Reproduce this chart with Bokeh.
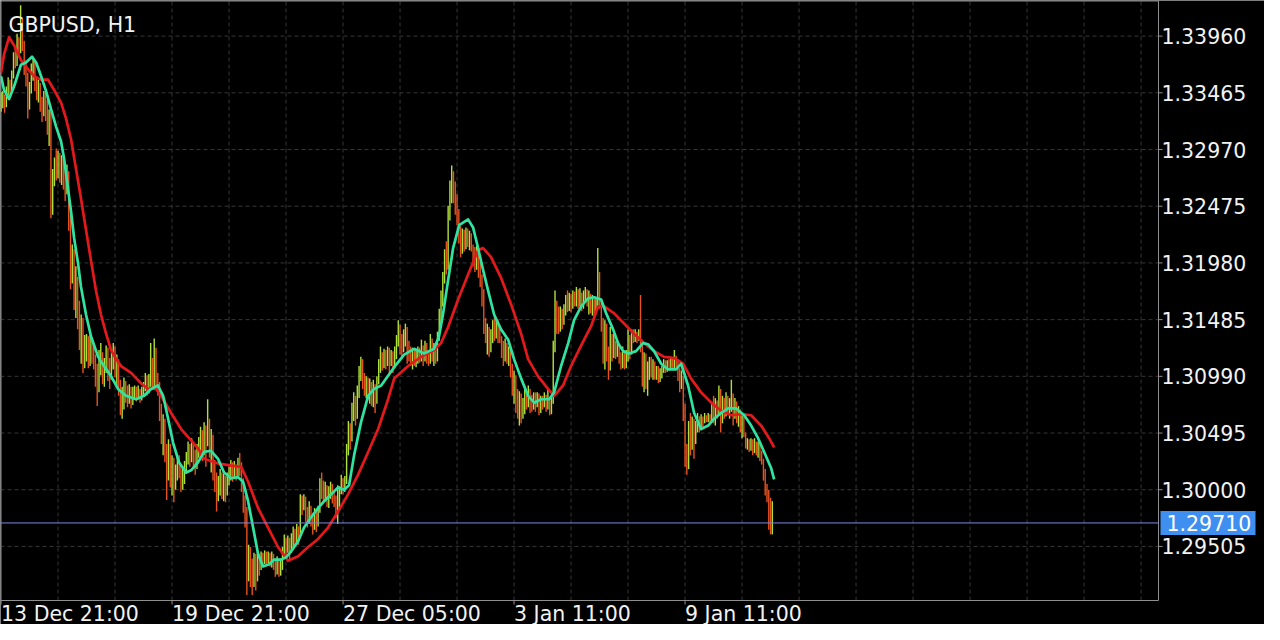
import numpy as np
from bokeh.plotting import figure
from bokeh.models import Range1d, ColumnDataSource
from bokeh.core.properties import value
from bokeh.embed import file_html
from bokeh.resources import INLINE

symbol_title = "GBPUSD, H1"
first_open = 1.3335

close = [
    1.3338,1.3342,1.3336,1.3348,1.3355,1.3351,1.3362,1.3378,1.3372,1.3390,
    1.3384,1.3395,1.3388,1.3370,1.3360,1.3335,1.3350,1.3362,1.3371,1.3356,
    1.3345,1.3352,1.3338,1.3330,1.3342,1.3335,1.3318,1.3326,1.3245,1.3270,
    1.3283,1.3278,1.3290,1.3275,1.3285,1.3270,1.3262,1.3275,1.3235,1.3190,
    1.3205,1.3168,1.3180,1.3160,1.3130,1.3142,1.3118,1.3125,1.3132,1.3115,
    1.3128,1.3120,1.3112,1.3100,1.3088,1.3105,1.3115,1.3098,1.3108,1.3120,
    1.3110,1.3100,1.3112,1.3118,1.3105,1.3110,1.3090,1.3075,1.3082,1.3095,
    1.3085,1.3080,1.3088,1.3078,1.3084,1.3087,1.3082,1.3086,1.3080,1.3085,
    1.3090,1.3095,1.3088,1.3094,1.3110,1.3092,1.3120,1.3096,1.3090,1.3070,
    1.3050,1.3060,1.3032,1.3015,1.3035,1.3010,1.3022,1.3008,1.3015,1.3025,
    1.3018,1.3005,1.3012,1.3020,1.3028,1.3035,1.3028,1.3038,1.3030,1.3022,
    1.3034,1.3040,1.3048,1.3035,1.3050,1.3042,1.3058,1.3035,1.3045,1.3022,
    1.3010,1.2995,1.3005,1.3012,1.3000,1.3008,1.2998,1.3010,1.3016,1.3020,
    1.3012,1.3018,1.3015,1.3022,1.3020,1.3005,1.2990,1.2975,1.2925,1.2945,
    1.2930,1.2920,1.2938,1.2925,1.2940,1.2935,1.2942,1.2938,1.2944,1.2940,
    1.2943,1.2936,1.2940,1.2935,1.2930,1.2938,1.2928,1.2935,1.2945,1.2955,
    1.2948,1.2955,1.2950,1.2958,1.2962,1.2955,1.2965,1.2960,1.2988,1.2985,
    1.2990,1.2980,1.2972,1.2985,1.2975,1.2968,1.2978,1.2972,1.2982,1.3005,
    1.3000,1.2995,1.3000,1.2992,1.2998,1.3002,1.2994,1.2990,1.2980,1.2992,
    1.2998,1.3005,1.3000,1.3008,1.3035,1.3050,1.3045,1.3068,1.3075,1.3068,
    1.3085,1.3100,1.3110,1.3098,1.3090,1.3095,1.3085,1.3092,1.3080,1.3088,
    1.3078,1.3095,1.3108,1.3115,1.3110,1.3118,1.3112,1.3120,1.3114,1.3118,
    1.3110,1.3120,1.3130,1.3140,1.3128,1.3122,1.3135,1.3140,1.3125,1.3120,
    1.3115,1.3120,1.3112,1.3118,1.3122,1.3116,1.3120,1.3115,1.3125,1.3118,
    1.3113,1.3128,1.3118,1.3122,1.3115,1.3132,1.3150,1.3165,1.3185,1.3200,
    1.3195,1.3240,1.3262,1.3272,1.3258,1.3248,1.3240,1.3225,1.3210,1.3222,
    1.3215,1.3225,1.3218,1.3222,1.3212,1.3205,1.3198,1.3208,1.3195,1.3185,
    1.3170,1.3145,1.3135,1.3140,1.3128,1.3135,1.3142,1.3136,1.3145,1.3138,
    1.3132,1.3125,1.3118,1.3126,1.3115,1.3120,1.3105,1.3090,1.3098,1.3078,
    1.3070,1.3080,1.3068,1.3075,1.3082,1.3076,1.3084,1.3078,1.3072,1.3080,
    1.3076,1.3082,1.3070,1.3078,1.3075,1.3080,1.3072,1.3078,1.3070,1.3076,
    1.3125,1.3160,1.3150,1.3142,1.3155,1.3148,1.3158,1.3165,1.3160,1.3168,
    1.3162,1.3170,1.3166,1.3172,1.3165,1.3170,1.3162,1.3168,1.3172,1.3165,
    1.3170,1.3160,1.3166,1.3158,1.3164,1.3175,1.3162,1.3145,1.3125,1.3140,
    1.3120,1.3110,1.3132,1.3120,1.3128,1.3118,1.3125,1.3115,1.3110,1.3118,
    1.3108,1.3115,1.3130,1.3122,1.3135,1.3130,1.3136,1.3132,1.3138,1.3125,
    1.3100,1.3110,1.3095,1.3105,1.3112,1.3105,1.3110,1.3100,1.3104,1.3098,
    1.3102,1.3106,1.3110,1.3105,1.3110,1.3108,1.3112,1.3108,1.3114,1.3110,
    1.3100,1.3092,1.3098,1.3070,1.3030,1.3025,1.3050,1.3040,1.3058,1.3045,
    1.3055,1.3060,1.3056,1.3062,1.3058,1.3062,1.3060,1.3064,1.3061,1.3070,
    1.3065,1.3075,1.3068,1.3085,1.3060,1.3075,1.3068,1.3078,1.3070,1.3076,
    1.3080,1.3070,1.3075,1.3062,1.3068,1.3058,1.3062,1.3050,1.3040,1.3043,
    1.3038,1.3042,1.3036,1.3040,1.3034,1.3038,1.3030,1.3025,1.3015,1.3000,
    1.2992,1.2975,1.2965,1.2971,
]

high = [
    1.3347,1.3348,1.3345,1.3352,1.3360,1.3358,1.3366,1.3382,1.3386,1.3398,
    1.3395,1.3423,1.3412,1.3392,1.3375,1.3364,1.3356,1.3372,1.3378,1.3374,
    1.3360,1.3358,1.3355,1.3343,1.3348,1.3347,1.3340,1.3332,1.3330,1.3280,
    1.3290,1.3298,1.3296,1.3294,1.3292,1.3289,1.3280,1.3284,1.3278,1.3240,
    1.3214,1.3210,1.3195,1.3186,1.3165,1.3153,1.3150,1.3135,1.3136,1.3134,
    1.3135,1.3130,1.3125,1.3118,1.3110,1.3122,1.3128,1.3120,1.3115,1.3126,
    1.3124,1.3115,1.3120,1.3128,1.3125,1.3118,1.3114,1.3096,1.3090,1.3098,
    1.3094,1.3091,1.3092,1.3090,1.3090,1.3091,1.3090,1.3091,1.3088,1.3090,
    1.3094,1.3102,1.3100,1.3101,1.3128,1.3115,1.3132,1.3124,1.3102,1.3094,
    1.3075,1.3066,1.3062,1.3040,1.3044,1.3040,1.3030,1.3028,1.3022,1.3030,
    1.3030,1.3022,1.3018,1.3025,1.3033,1.3042,1.3040,1.3045,1.3041,1.3035,
    1.3040,1.3046,1.3055,1.3052,1.3059,1.3056,1.3079,1.3062,1.3053,1.3048,
    1.3026,1.3015,1.3012,1.3018,1.3015,1.3014,1.3012,1.3015,1.3020,1.3026,
    1.3024,1.3025,1.3022,1.3028,1.3032,1.3024,1.3010,1.2995,1.2985,1.2952,
    1.2950,1.2940,1.2945,1.2944,1.2946,1.2944,1.2946,1.2945,1.2947,1.2946,
    1.2946,1.2945,1.2946,1.2944,1.2940,1.2942,1.2940,1.2940,1.2950,1.2961,
    1.2958,1.2960,1.2958,1.2962,1.2968,1.2966,1.2970,1.2968,1.2996,1.2995,
    1.2996,1.2994,1.2985,1.2990,1.2986,1.2980,1.2984,1.2982,1.2986,1.3010,
    1.3015,1.3008,1.3007,1.3004,1.3003,1.3007,1.3005,1.2998,1.2995,1.3004,
    1.3003,1.3013,1.3010,1.3012,1.3040,1.3060,1.3058,1.3076,1.3085,1.3082,
    1.3091,1.3108,1.3116,1.3114,1.3102,1.3099,1.3098,1.3097,1.3094,1.3096,
    1.3092,1.3099,1.3114,1.3125,1.3120,1.3123,1.3122,1.3125,1.3124,1.3122,
    1.3121,1.3125,1.3135,1.3148,1.3144,1.3136,1.3140,1.3145,1.3142,1.3130,
    1.3125,1.3124,1.3122,1.3122,1.3125,1.3124,1.3131,1.3126,1.3130,1.3128,
    1.3122,1.3136,1.3132,1.3128,1.3126,1.3138,1.3158,1.3174,1.3190,1.3210,
    1.3217,1.3248,1.3270,1.3283,1.3278,1.3269,1.3258,1.3245,1.3230,1.3228,
    1.3227,1.3229,1.3228,1.3226,1.3224,1.3214,1.3212,1.3213,1.3210,1.3200,
    1.3188,1.3175,1.3150,1.3145,1.3142,1.3140,1.3148,1.3151,1.3150,1.3148,
    1.3142,1.3134,1.3130,1.3132,1.3128,1.3125,1.3122,1.3110,1.3104,1.3100,
    1.3088,1.3086,1.3084,1.3080,1.3088,1.3086,1.3091,1.3088,1.3083,1.3085,
    1.3085,1.3085,1.3084,1.3082,1.3082,1.3085,1.3083,1.3088,1.3080,1.3082,
    1.3130,1.3174,1.3165,1.3160,1.3160,1.3158,1.3162,1.3170,1.3174,1.3172,
    1.3171,1.3174,1.3173,1.3177,1.3175,1.3176,1.3172,1.3174,1.3177,1.3175,
    1.3174,1.3171,1.3170,1.3168,1.3168,1.3211,1.3190,1.3165,1.3150,1.3148,
    1.3145,1.3125,1.3142,1.3136,1.3136,1.3130,1.3130,1.3127,1.3120,1.3125,
    1.3120,1.3122,1.3140,1.3135,1.3140,1.3140,1.3140,1.3138,1.3140,1.3170,
    1.3131,1.3120,1.3119,1.3112,1.3116,1.3116,1.3114,1.3112,1.3108,1.3108,
    1.3106,1.3108,1.3114,1.3113,1.3113,1.3114,1.3116,1.3115,1.3122,1.3117,
    1.3114,1.3106,1.3104,1.3099,1.3075,1.3040,1.3060,1.3067,1.3064,1.3062,
    1.3060,1.3067,1.3064,1.3066,1.3064,1.3067,1.3065,1.3067,1.3066,1.3075,
    1.3082,1.3080,1.3078,1.3091,1.3088,1.3082,1.3080,1.3085,1.3082,1.3080,
    1.3096,1.3084,1.3080,1.3077,1.3073,1.3070,1.3066,1.3064,1.3045,1.3045,
    1.3044,1.3045,1.3044,1.3045,1.3042,1.3042,1.3040,1.3034,1.3027,1.3018,
    1.3005,1.3000,1.2993,1.2990,
]

low = [
    1.3330,1.3333,1.3329,1.3334,1.3344,1.3342,1.3348,1.3359,1.3368,1.3370,
    1.3378,1.3381,1.3383,1.3362,1.3352,1.3324,1.3332,1.3346,1.3357,1.3348,
    1.3340,1.3338,1.3330,1.3321,1.3326,1.3322,1.3310,1.3300,1.3237,1.3240,
    1.3265,1.3270,1.3272,1.3268,1.3266,1.3262,1.3252,1.3258,1.3226,1.3175,
    1.3180,1.3157,1.3150,1.3140,1.3122,1.3110,1.3102,1.3106,1.3112,1.3106,
    1.3108,1.3110,1.3105,1.3090,1.3073,1.3085,1.3100,1.3092,1.3090,1.3102,
    1.3095,1.3088,1.3096,1.3105,1.3098,1.3091,1.3082,1.3065,1.3062,1.3070,
    1.3076,1.3072,1.3075,1.3071,1.3074,1.3079,1.3077,1.3079,1.3076,1.3078,
    1.3081,1.3086,1.3082,1.3084,1.3090,1.3088,1.3088,1.3090,1.3082,1.3060,
    1.3040,1.3030,1.3024,1.2991,1.3008,1.3002,1.2995,1.2989,1.3000,1.3008,
    1.3010,1.2998,1.3000,1.3005,1.3014,1.3022,1.3020,1.3024,1.3018,1.3013,
    1.3018,1.3028,1.3032,1.3025,1.3030,1.3020,1.3038,1.3028,1.3015,1.3008,
    1.2998,1.2981,1.2990,1.2995,1.2992,1.2990,1.2989,1.2995,1.3004,1.3008,
    1.3007,1.3010,1.3008,1.3010,1.3012,1.2998,1.2980,1.2967,1.2908,1.2920,
    1.2915,1.2908,1.2915,1.2912,1.2920,1.2925,1.2930,1.2933,1.2935,1.2934,
    1.2936,1.2933,1.2932,1.2930,1.2924,1.2926,1.2924,1.2925,1.2930,1.2940,
    1.2940,1.2945,1.2938,1.2945,1.2950,1.2950,1.2952,1.2952,1.2958,1.2978,
    1.2982,1.2972,1.2967,1.2970,1.2968,1.2961,1.2965,1.2963,1.2968,1.2980,
    1.2992,1.2989,1.2990,1.2985,1.2984,1.2992,1.2988,1.2985,1.2975,1.2970,
    1.2985,1.2996,1.2996,1.2998,1.3005,1.3030,1.3035,1.3042,1.3060,1.3056,
    1.3062,1.3080,1.3095,1.3088,1.3082,1.3080,1.3078,1.3075,1.3073,1.3072,
    1.3067,1.3075,1.3092,1.3102,1.3104,1.3106,1.3105,1.3108,1.3102,1.3108,
    1.3102,1.3106,1.3114,1.3125,1.3118,1.3115,1.3120,1.3125,1.3110,1.3112,
    1.3108,1.3105,1.3108,1.3107,1.3110,1.3111,1.3112,1.3108,1.3112,1.3110,
    1.3108,1.3110,1.3112,1.3108,1.3110,1.3112,1.3130,1.3145,1.3160,1.3180,
    1.3188,1.3192,1.3235,1.3250,1.3250,1.3240,1.3231,1.3215,1.3203,1.3206,
    1.3208,1.3210,1.3212,1.3209,1.3208,1.3195,1.3190,1.3192,1.3185,1.3177,
    1.3160,1.3136,1.3128,1.3118,1.3116,1.3120,1.3128,1.3130,1.3132,1.3128,
    1.3128,1.3115,1.3108,1.3112,1.3110,1.3108,1.3098,1.3082,1.3075,1.3067,
    1.3062,1.3056,1.3058,1.3062,1.3066,1.3070,1.3072,1.3067,1.3068,1.3070,
    1.3068,1.3072,1.3065,1.3067,1.3070,1.3072,1.3068,1.3070,1.3065,1.3066,
    1.3075,1.3120,1.3136,1.3136,1.3138,1.3140,1.3144,1.3152,1.3155,1.3156,
    1.3155,1.3158,1.3160,1.3160,1.3158,1.3160,1.3156,1.3158,1.3163,1.3160,
    1.3153,1.3154,1.3152,1.3151,1.3155,1.3160,1.3158,1.3138,1.3110,1.3105,
    1.3112,1.3096,1.3104,1.3112,1.3115,1.3114,1.3116,1.3110,1.3105,1.3106,
    1.3105,1.3106,1.3112,1.3114,1.3118,1.3128,1.3129,1.3128,1.3130,1.3120,
    1.3090,1.3085,1.3088,1.3082,1.3096,1.3098,1.3096,1.3096,1.3096,1.3093,
    1.3094,1.3097,1.3102,1.3102,1.3103,1.3104,1.3105,1.3105,1.3106,1.3105,
    1.3095,1.3085,1.3088,1.3060,1.3020,1.3013,1.3018,1.3030,1.3035,1.3027,
    1.3040,1.3050,1.3050,1.3052,1.3053,1.3059,1.3059,1.3059,1.3059,1.3060,
    1.3058,1.3056,1.3062,1.3065,1.3050,1.3058,1.3062,1.3064,1.3065,1.3062,
    1.3068,1.3056,1.3062,1.3058,1.3055,1.3050,1.3045,1.3046,1.3036,1.3035,
    1.3033,1.3034,1.3030,1.3032,1.3030,1.3028,1.3025,1.3022,1.3008,1.2995,
    1.2989,1.2965,1.2961,1.2961,
]

# fast moving average (green) and slow moving average (red): (bar index, price)
ma_fast_x = [0,1.7,4.5,7.3,11.2,14,17.4,19.7,22.5,25.3,28.1,30.9,33.7,35.4,37.6,39.3,41,43.2,44.9,47.7,
             50.5,54.5,57.8,61.8,65.7,70.2,75.8,80.3,84.2,88.1,91,93.8,96.6,99.9,103.9,106.7,110.6,114,117.9,121.8,
             125.2,129.1,133.1,135.9,138.7,141.5,144.3,147.1,150.5,153.3,157.2,160,162.8,166.8,170.1,174.1,178,181.4,185.3,189.2,
             192.6,195.4,198.2,202.1,206.1,209.4,213.4,220.7,226.3,231.9,237.5,243.1,245.9,248.2,251,253.8,257.2,262.2,265,267.8,
             270.6,273.4,276.8,280.7,284.7,288,292,295.9,299.3,303.2,307.7,310.5,314.4,318.4,321.7,325.7,329.6,333,336.9,339.7,
             343.6,346.4,349.2,352.6,356.5,360.4,363.3,366.6,370.6,374.5,379,381.8,385.7,389.1,393,397,400.3,404.3,408.2,412.7,
             417.2,421.1,425,428.4,432.3,434]
ma_fast_y = [1.3361,1.3349,1.3341,1.3352,1.3371,1.3373,1.3378,1.3373,1.3361,1.3348,1.3332,1.3317,1.3304,1.3289,1.3263,1.3243,1.3220,1.3198,1.3177,1.3153,
             1.3134,1.3116,1.3108,1.3099,1.3088,1.3082,1.3079,1.3082,1.3088,1.3091,1.3082,1.3062,1.3041,1.3024,1.3015,1.3017,1.3024,1.3033,1.3034,1.3027,
             1.3015,1.3010,1.3011,1.3007,1.2990,1.2967,1.2944,1.2933,1.2935,1.2939,1.2939,1.2941,1.2946,1.2955,1.2967,1.2976,1.2984,1.2990,1.2996,1.3002,
             1.3000,1.3004,1.3030,1.3059,1.3082,1.3088,1.3091,1.3107,1.3118,1.3123,1.3119,1.3123,1.3134,1.3154,1.3183,1.3211,1.3231,1.3236,1.3229,1.3211,
             1.3192,1.3174,1.3153,1.3140,1.3131,1.3114,1.3097,1.3082,1.3076,1.3079,1.3079,1.3085,1.3108,1.3128,1.3148,1.3160,1.3167,1.3168,1.3166,1.3154,
             1.3140,1.3128,1.3121,1.3119,1.3121,1.3128,1.3127,1.3121,1.3110,1.3105,1.3105,1.3110,1.3091,1.3067,1.3053,1.3056,1.3062,1.3067,1.3071,1.3071,
             1.3065,1.3056,1.3045,1.3033,1.3019,1.3009]

ma_slow_x = [0,1.7,4.5,7.3,11.2,15.2,18.5,22.5,26.4,29.8,33.7,36.5,39.3,42.1,44.9,47.7,50.5,53.3,56.1,59,
             61.8,64.6,67.4,73,78.6,82.5,87,89.8,95.5,101.1,106.7,110.6,114,121.8,129.1,134.8,138.7,144.3,149.9,155.5,
             161.1,166.8,172.4,178,183.6,189.2,194.8,200.4,206.1,211.7,217.3,220.7,228.5,235.8,243.1,247,251,256.6,262.2,267.8,
             270.6,275.1,280.7,286.3,292,295.9,301.5,307.1,310.5,315.5,320,325.7,331.3,335.2,338.6,344.2,349.8,355.4,361,366.6,
             372.2,377.9,382.9,387.4,393,398.7,404.3,409.9,415.5,421.1,426.7,431.2,434]
ma_slow_y = [1.3364,1.3380,1.3395,1.3388,1.3375,1.3367,1.3361,1.3358,1.3358,1.3349,1.3338,1.3324,1.3306,1.3280,1.3254,1.3227,1.3200,1.3174,1.3153,1.3136,
             1.3122,1.3114,1.3108,1.3102,1.3093,1.3088,1.3088,1.3082,1.3067,1.3053,1.3043,1.3036,1.3027,1.3023,1.3021,1.3020,1.3007,1.2984,1.2967,1.2950,
             1.2938,1.2942,1.2950,1.2957,1.2967,1.2981,1.2996,1.3013,1.3033,1.3053,1.3079,1.3097,1.3108,1.3116,1.3122,1.3128,1.3142,1.3166,1.3188,1.3209,
             1.3211,1.3203,1.3185,1.3162,1.3136,1.3114,1.3099,1.3088,1.3082,1.3091,1.3108,1.3126,1.3143,1.3160,1.3160,1.3154,1.3145,1.3136,1.3128,1.3121,
             1.3116,1.3115,1.3110,1.3097,1.3085,1.3076,1.3069,1.3065,1.3066,1.3065,1.3056,1.3045,1.3037]

time_tick_bars = [0, 96, 192, 288, 384]
time_tick_labels = ["13 Dec 21:00", "19 Dec 21:00", "27 Dec 05:00", "3 Jan 11:00", "9 Jan 11:00"]
grid_bars = list(range(32, 645, 32))
price_ticks = [1.29505, 1.30000, 1.30495, 1.30990, 1.31485, 1.31980, 1.32475, 1.32970, 1.33465, 1.33960]
last_price = 1.29710

# ---------------------------------------------------------------- layout
W, H = 1264, 624            # whole canvas (one frame, everything drawn inside)
CHART_W, CHART_H = 1158, 600  # price area in pixels
PX_PER_BAR = 1.7813
X0 = -0.3
X1 = X0 + W / PX_PER_BAR
XR = X0 + CHART_W / PX_PER_BAR          # right edge of price area (bar units)
Y_TOP = 1.34271
PX_PRICE = 0.0000873                     # price per pixel
YB = Y_TOP - CHART_H * PX_PRICE          # bottom edge of price area
Y0 = Y_TOP - H * PX_PRICE

FONT = value("DejaVu Sans")
FS = value("20.5px")
TXT = "#f2f2f2"
GRAY = "#8f8f8f"
GRID = "#363636"

n = min(len(close), len(high), len(low))
c = np.array(close[:n])
o = np.concatenate([[first_open], c[:-1]])
h = np.maximum.reduce([np.array(high[:n]), o, c])
lo = np.minimum.reduce([np.array(low[:n]), o, c])
idx = np.arange(n)
UP, DOWN = "#b0e03a", "#e8521f"
cols = [UP if cc >= oo else DOWN for oo, cc in zip(o, c)]
src = ColumnDataSource(dict(x=idx, high=h, low=lo, color=cols))

p = figure(width=W, height=H, output_backend="svg", toolbar_location=None,
           x_range=Range1d(X0, X1), y_range=Range1d(Y0, Y_TOP),
           x_axis_location=None, y_axis_location=None, min_border=0,
           background_fill_color="black", border_fill_color="black")
p.outline_line_color = None
p.grid.visible = False

# dashed grid inside the price area
p.segment(x0=grid_bars, x1=grid_bars, y0=[YB] * len(grid_bars), y1=[Y_TOP] * len(grid_bars),
          line_color=GRID, line_width=1, line_dash="4 3")
p.segment(x0=[X0] * len(price_ticks), x1=[XR] * len(price_ticks), y0=price_ticks, y1=price_ticks,
          line_color=GRID, line_width=1, line_dash="4 3")

# frame of the price area
half_px_x = 0.5 / PX_PER_BAR
half_px_y = 0.5 * PX_PRICE
p.segment(x0=[X0 + half_px_x, X0, XR, X0], x1=[X0 + half_px_x, XR, XR, XR],
          y0=[YB, Y_TOP - half_px_y, YB, YB], y1=[Y_TOP, Y_TOP - half_px_y, Y_TOP, YB],
          line_color=GRAY, line_width=1)
# price ticks on the right edge and time ticks on the bottom edge
p.segment(x0=[XR] * len(price_ticks), x1=[XR + 4 / PX_PER_BAR] * len(price_ticks),
          y0=price_ticks, y1=price_ticks, line_color=GRAY, line_width=1)
p.segment(x0=time_tick_bars, x1=time_tick_bars, y0=[YB] * len(time_tick_bars),
          y1=[YB - 4 * PX_PRICE] * len(time_tick_bars), line_color=GRAY, line_width=1)

# bars (high-low)
p.segment(x0="x", y0="low", x1="x", y1="high", color="color", line_width=1.4, source=src)

# moving averages
p.line(ma_slow_x, ma_slow_y, color="#e3191c", line_width=2.7, line_join="round")
p.line(ma_fast_x, ma_fast_y, color="#2fe3a2", line_width=2.7, line_join="round")

# last price line and tag
p.segment(x0=[X0], x1=[XR], y0=[last_price], y1=[last_price], line_color="#7f86e0", line_width=1)
p.rect(x=[XR + 49.5 / PX_PER_BAR], y=[last_price], width=95, height=24,
       width_units="screen", height_units="screen", fill_color="#3f8ff0", line_color=None)
p.text(x=[XR], y=[last_price], text=[f"{last_price:.5f}"], x_offset=8,
       text_align="left", text_baseline="middle", text_color="white",
       text_font=FONT, text_font_size=FS)

# price labels
p.text(x=[XR] * len(price_ticks), y=price_ticks, text=[f"{t:.5f}" for t in price_ticks], x_offset=3,
       text_align="left", text_baseline="middle", text_color=TXT, text_font=FONT, text_font_size=FS)

# time labels, left aligned at their bar
p.text(x=time_tick_bars, y=[YB] * len(time_tick_bars), text=time_tick_labels, y_offset=13,
       text_align="left", text_baseline="middle", text_color=TXT, text_font=FONT, text_font_size=FS)

# title
p.text(x=[X0], y=[Y_TOP], text=[symbol_title], x_offset=8, y_offset=24,
       text_align="left", text_baseline="middle", text_color=TXT, text_font=FONT, text_font_size=FS)

open("out.html", "w").write(file_html(p, INLINE))
